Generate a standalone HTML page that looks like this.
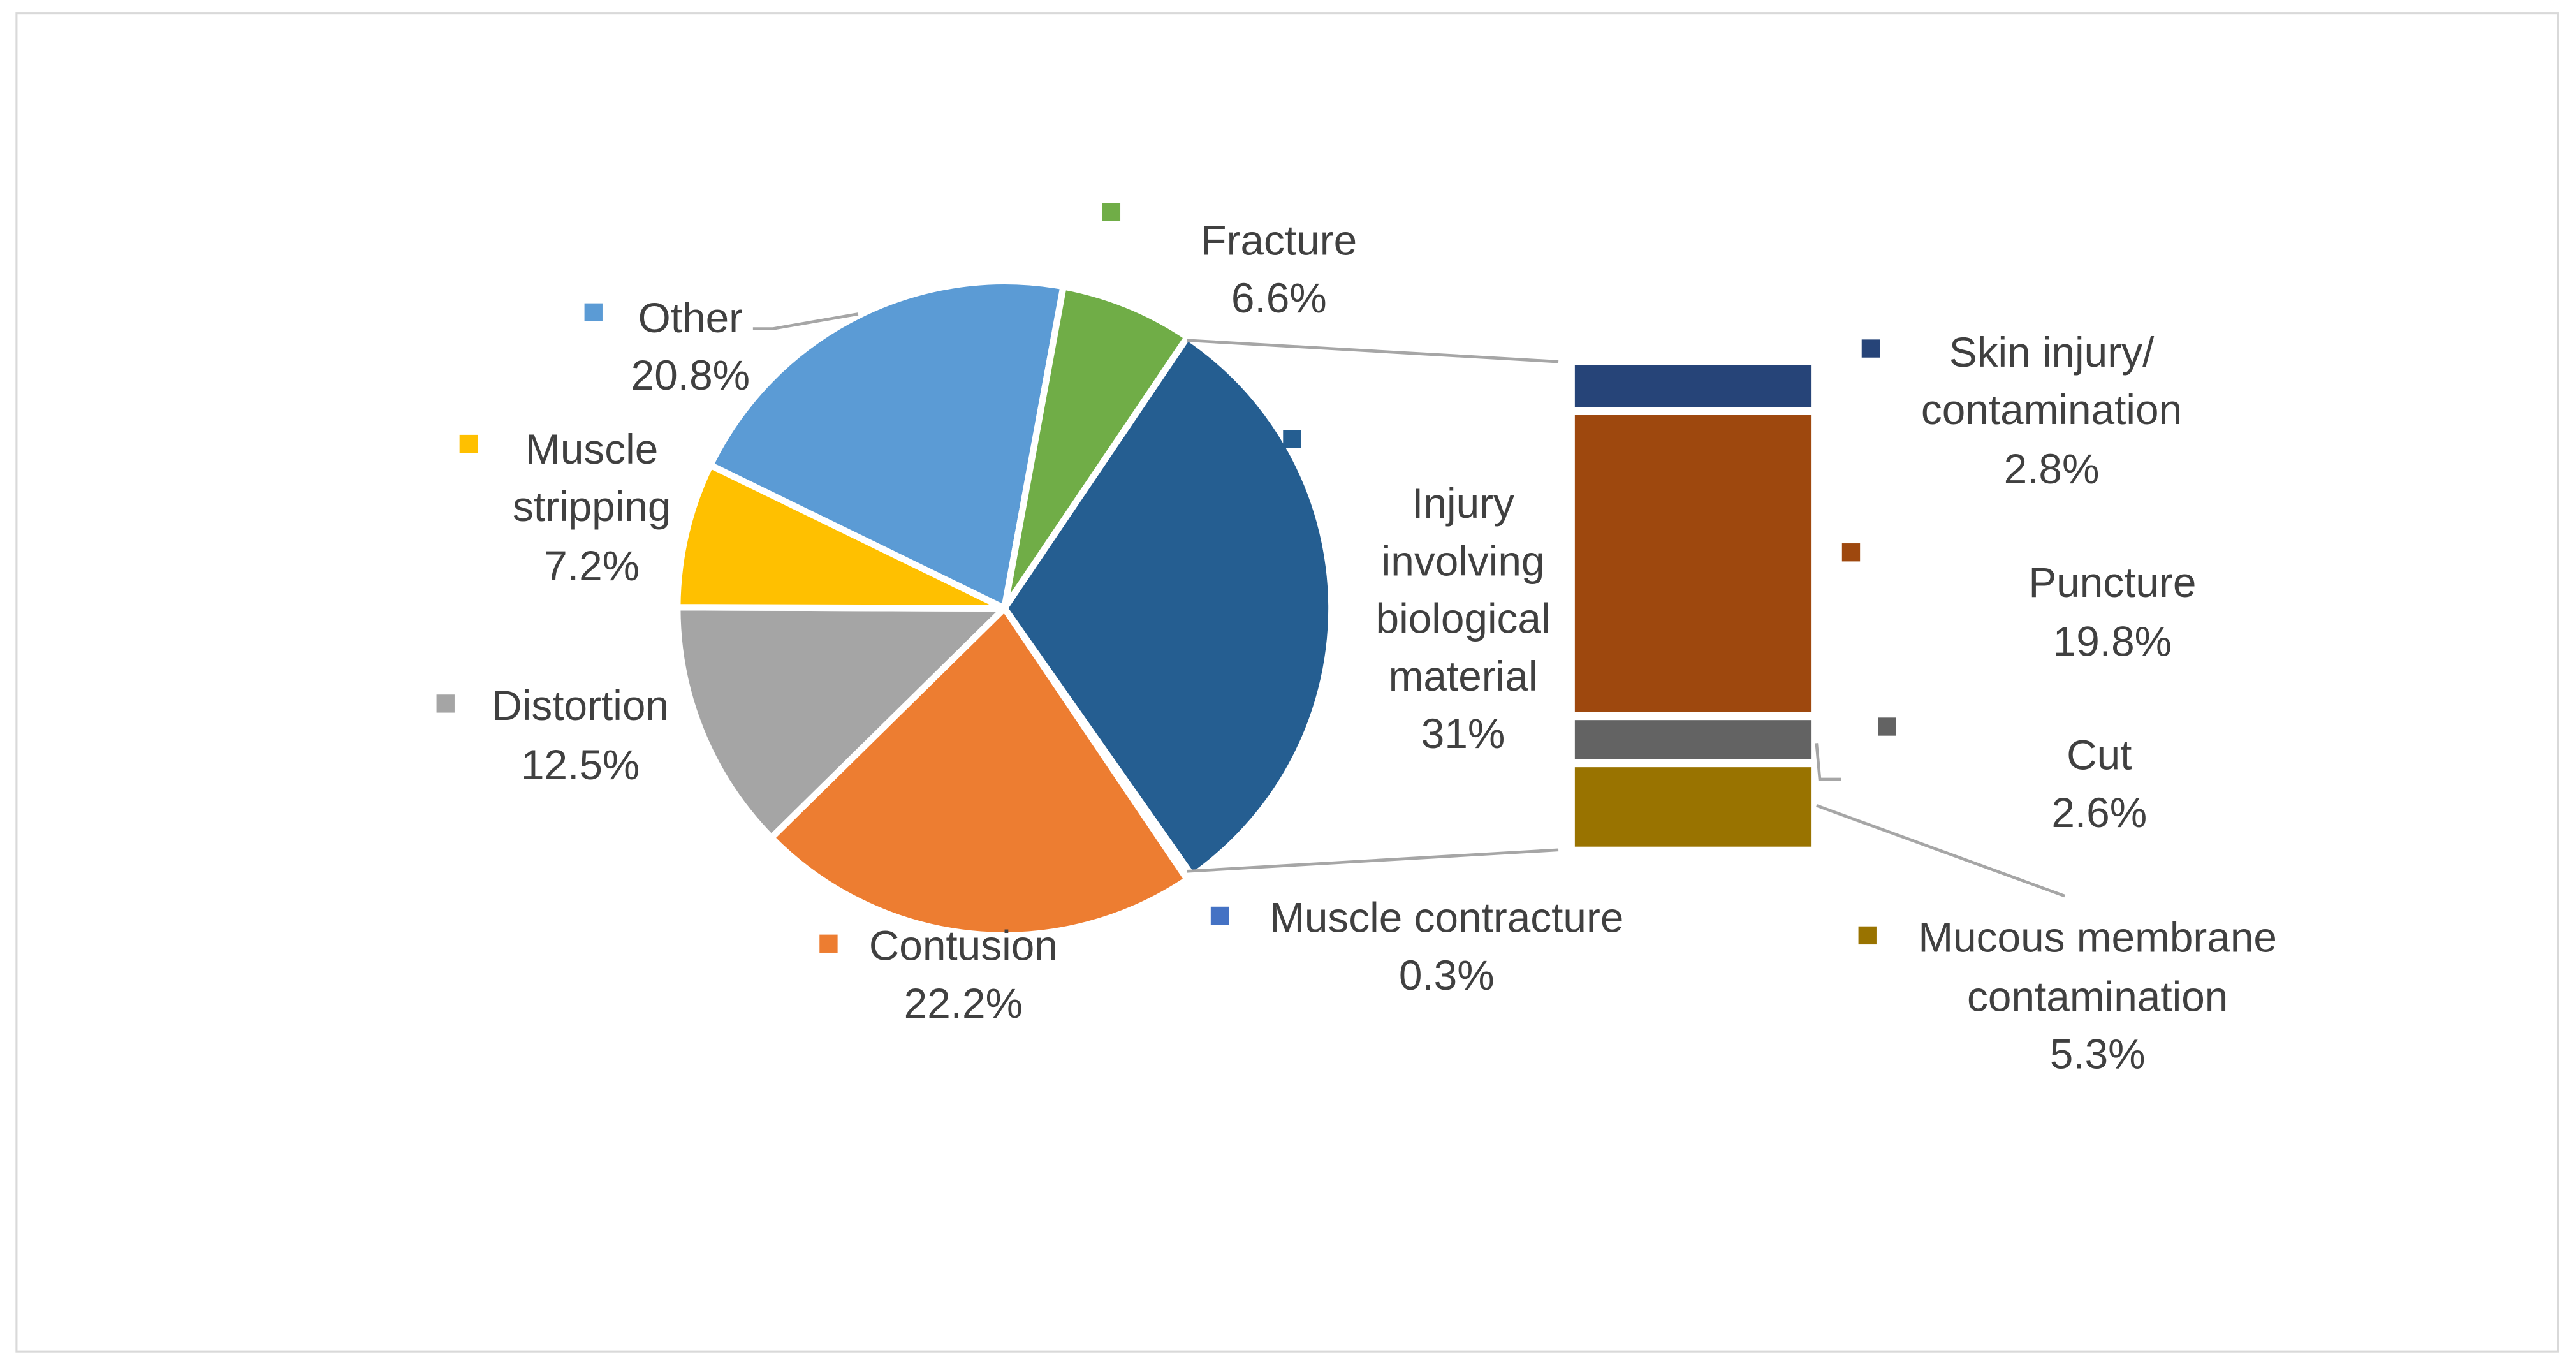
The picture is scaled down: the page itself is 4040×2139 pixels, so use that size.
<!DOCTYPE html>
<html><head><meta charset="utf-8"><style>
html,body{margin:0;padding:0;background:#fff;}
svg{display:block;}
text{font-family:"Liberation Sans",sans-serif;fill:#404040;font-size:25.5px;}
</style></head><body>
<svg id="chart" width="4040" height="2139" viewBox="0 0 1567 829.7" xmlns="http://www.w3.org/2000/svg">
<rect x="10" y="8" width="1546" height="814" fill="#fff" stroke="#d9d9d9" stroke-width="1.2"/>
<g id="pie"></g>
<g id="bar"></g>
<g stroke="#a6a6a6" stroke-width="1.8" fill="none">
<line x1="722" y1="207" x2="948" y2="220"/>
<line x1="722" y1="530" x2="948" y2="517"/>
<polyline points="458,200 470,200 522,191"/>
<polyline points="1105,452 1107,474 1120,474"/>
<line x1="1105" y1="490" x2="1256" y2="545"/>
</g>
<g id="labels"></g>
</svg>
<script>
const pieCategories = ["Injury involving biological material","Muscle contracture","Contusion","Distortion","Muscle stripping","Other","Fracture"];
const pieValues = [31,0.3,22.2,12.5,7.2,20.8,6.6];
const pieColors = ["#255E91","#4472C4","#ED7D31","#A5A5A5","#FFC000","#5B9BD5","#70AD47"];
const barCategories = ["Skin injury/ contamination","Puncture","Cut","Mucous membrane contamination"];
const barValues = [2.8,19.8,2.6,5.3];
const barColors = ["#264478","#9E480E","#636363","#997300"];

const NS="http://www.w3.org/2000/svg";
const cx=611, cy=370, r=199, startDeg=34;
const pie=document.getElementById('pie');
const total=pieValues.reduce((a,b)=>a+b,0);
let a0=startDeg;
function pt(deg,rad){const t=deg*Math.PI/180;return [cx+rad*Math.sin(t),cy-rad*Math.cos(t)];}
pieValues.forEach((v,i)=>{
  const sweep=v/total*360, a1=a0+sweep;
  const p0=pt(a0,r), p1=pt(a1,r);
  const p=document.createElementNS(NS,'path');
  p.setAttribute('d',`M${cx},${cy} L${p0[0]},${p0[1]} A${r},${r} 0 ${sweep>180?1:0} 1 ${p1[0]},${p1[1]} Z`);
  p.setAttribute('fill',pieColors[i]);p.setAttribute('stroke','#fff');p.setAttribute('stroke-width','4');p.setAttribute('stroke-linejoin','round');
  
  
  pie.appendChild(p);
  a0=a1;
});
const bar=document.getElementById('bar');
const bx=958,bw=144,by0=222,by1=515,gap=5;
const bsum=barValues.reduce((a,b)=>a+b,0);
const k=(by1-by0-gap*(barValues.length-1))/bsum;
let y=by0;
barValues.forEach((v,i)=>{
  const h=v*k;
  const rc=document.createElementNS(NS,'rect');
  rc.setAttribute('x',bx);rc.setAttribute('y',y);rc.setAttribute('width',bw);rc.setAttribute('height',h);
  rc.setAttribute('fill',barColors[i]);
  
  
  bar.appendChild(rc);
  y+=h+gap;
});
const labels=[
 {n:"fracture",m:[676,129],c:"#70AD47",x:778,lines:[["Fracture",146],["6.6%",181]]},
 {n:"other",m:[361,190],c:"#5B9BD5",x:420,lines:[["Other",193],["20.8%",228]]},
 {n:"muscle-stripping",m:[285,270],c:"#FFC000",x:360,lines:[["Muscle",273],["stripping",308],["7.2%",344]]},
 {n:"distortion",m:[271,428],c:"#A5A5A5",x:353,lines:[["Distortion",429],["12.5%",465]]},
 {n:"contusion",m:[504,574],c:"#ED7D31",x:586,lines:[["Contusion",575],["22.2%",610]]},
 {n:"muscle-contracture",m:[742,557],c:"#4472C4",x:880,lines:[["Muscle contracture",558],["0.3%",593]]},
 {n:"biological",m:[786,267],c:"#255E91",x:890,lines:[["Injury",306],["involving",341],["biological",376],["material",411],["31%",446]]},
 {n:"skin-injury",m:[1138,212],c:"#264478",x:1248,lines:[["Skin injury/",214],["contamination",249],["2.8%",285]]},
 {n:"puncture",m:[1126,336],c:"#9E480E",x:1285,lines:[["Puncture",354],["19.8%",390]]},
 {n:"cut",m:[1148,442],c:"#636363",x:1277,lines:[["Cut",459],["2.6%",494]]},
 {n:"mucous",m:[1136,569],c:"#997300",x:1276,lines:[["Mucous membrane",570],["contamination",606],["5.3%",641]]}
];
const lg=document.getElementById('labels');
labels.forEach(L=>{
  const g=document.createElementNS(NS,'g');
  
  
  const s=document.createElementNS(NS,'rect');
  s.setAttribute('x',L.m[0]-5.5);s.setAttribute('y',L.m[1]-5.5);s.setAttribute('width',11);s.setAttribute('height',11);s.setAttribute('fill',L.c);
  
  
  g.appendChild(s);
  L.lines.forEach(([t,yy])=>{
    const tx=document.createElementNS(NS,'text');
    tx.setAttribute('x',L.x);tx.setAttribute('y',yy+9);tx.setAttribute('text-anchor','middle');
    tx.textContent=t;
    
    
    g.appendChild(tx);
  });
  lg.appendChild(g);
});
</script>
</body></html>
